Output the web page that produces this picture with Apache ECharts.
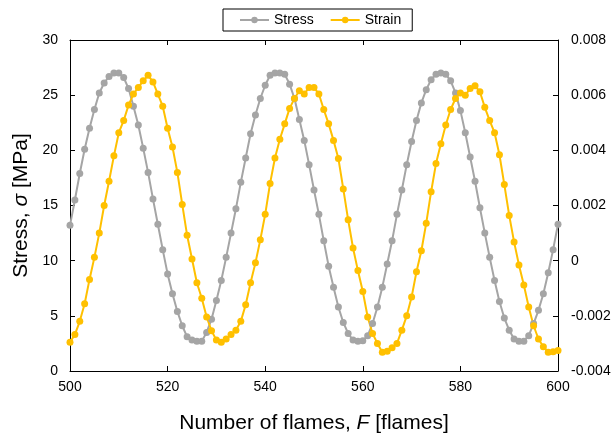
<!DOCTYPE html>
<html>
<head>
<meta charset="utf-8">
<script src="https://cdn.jsdelivr.net/npm/echarts@6/dist/echarts.min.js"></script>
<style>
  html, body { margin: 0; padding: 0; background: #fff; }
  #chart { width: 614px; height: 439px; }
</style>
</head>
<body>
<div id="chart"></div>
<script>
// frames 500..600, one sample per frame
var frameStart = 500;

// stress [MPa], left axis
var stress = [
  13.2, 15.5, 17.9, 20.1, 22.0, 23.7, 25.2, 26.1, 26.7, 27.0,
  27.0, 26.6, 25.6, 24.0, 22.3, 20.2, 18.0, 15.6, 13.3, 11.0,
  8.8, 7.0, 5.4, 4.1, 3.1, 2.8, 2.7, 2.7, 3.5, 4.7,
  6.4, 8.2, 10.3, 12.5, 14.7, 17.1, 19.3, 21.5, 23.2, 24.7,
  25.9, 26.8, 27.0, 27.0, 26.9, 26.0, 24.7, 22.8, 20.9, 18.7,
  16.4, 14.2, 11.8, 9.5, 7.6, 5.8, 4.4, 3.4, 2.8, 2.7,
  2.75, 3.2, 4.3, 5.8, 7.6, 9.7, 11.8, 14.2, 16.4, 18.7,
  20.8, 22.7, 24.3, 25.5, 26.4, 26.9, 27.0, 26.9, 26.3, 25.2,
  23.6, 21.6, 19.4, 17.2, 14.8, 12.5, 10.3, 8.2, 6.3, 4.8,
  3.7, 2.9, 2.7, 2.7, 3.2, 4.3, 5.5, 7.0, 8.9, 11.0, 13.3
];

// strain [-], right axis
var strain = [
  -0.00296, -0.00268, -0.00220, -0.00156, -0.00068, 0.00012, 0.00100, 0.00200, 0.00288, 0.00380,
  0.00464, 0.00508, 0.00564, 0.00604, 0.00628, 0.00652, 0.00672, 0.00648, 0.00604, 0.00560,
  0.00480, 0.00412, 0.00320, 0.00204, 0.00092, 0.00006, -0.00080, -0.00136, -0.00204, -0.00254,
  -0.00288, -0.00296, -0.00284, -0.00268, -0.00252, -0.00220, -0.00160, -0.00080, -0.00008, 0.00076,
  0.00168, 0.00280, 0.00372, 0.00440, 0.00496, 0.00552, 0.00588, 0.00616, 0.00604, 0.00628,
  0.00628, 0.00604, 0.00548, 0.00496, 0.00436, 0.00370, 0.00260, 0.00148, 0.00046, -0.00036,
  -0.00112, -0.00204, -0.00264, -0.00300, -0.00332, -0.00328, -0.00316, -0.00300, -0.00252, -0.00200,
  -0.00132, -0.00040, 0.00036, 0.00136, 0.00250, 0.00352, 0.00424, 0.00492, 0.00548, 0.00588,
  0.00608, 0.00600, 0.00624, 0.00634, 0.00612, 0.00556, 0.00508, 0.00464, 0.00384, 0.00276,
  0.00164, 0.00068, -0.00016, -0.00088, -0.00168, -0.00236, -0.00284, -0.00312, -0.00332, -0.00330, -0.00326
];

var seriesNames = ['Stress', 'Strain'];
var colors = ['#A5A5A5', '#FFC000'];

function pairs(arr) {
  return arr.map(function (v, i) { return [frameStart + i, v]; });
}

var font = "'Liberation Sans', Arial, Helvetica, sans-serif";
var chart = echarts.init(document.getElementById('chart'));

var axisLine = { show: true, onZero: false, lineStyle: { color: '#000', width: 1 } };
var tick = { show: true, inside: true, length: 5, lineStyle: { color: '#000' } };
var titleStyle = { fontSize: 21, color: '#000', fontFamily: font,
  rich: { i: { fontStyle: 'italic', fontSize: 21, color: '#000', fontFamily: font } } };

var option = {
  animation: false,
  textStyle: { fontFamily: font },
  legend: {
    data: seriesNames,
    top: 9,
    left: 223,
    itemWidth: 29,
    itemHeight: 8,
    itemGap: 16,
    borderColor: '#000',
    borderWidth: 1,
    padding: [4, 11, 4, 16],
    textStyle: { fontSize: 14, color: '#000', fontFamily: font }
  },
  grid: { left: 70, right: 56, top: 40, bottom: 66, containLabel: false },
  xAxis: [{
    type: 'value', min: 500, max: 600, interval: 20, position: 'bottom',
    axisLine: axisLine, axisTick: tick, splitLine: { show: false },
    axisLabel: { fontSize: 14, color: '#000', margin: 9, fontFamily: font },
    name: 'Number of flames, {i|F} [flames]',
    nameLocation: 'middle', nameGap: 42,
    nameTextStyle: titleStyle
  }, {
    type: 'value', min: 500, max: 600, interval: 20, position: 'top',
    axisLine: axisLine, axisTick: tick, axisLabel: { show: false }, splitLine: { show: false }
  }],
  yAxis: [{
    type: 'value', min: 0, max: 30, interval: 5, position: 'left',
    axisLine: axisLine, axisTick: tick, splitLine: { show: false },
    axisLabel: { fontSize: 14, color: '#000', margin: 12, fontFamily: font },
    name: 'Stress, {i|σ} [MPa]',
    nameLocation: 'middle', nameGap: 37, nameRotate: 90,
    nameTextStyle: titleStyle
  }, {
    type: 'value', min: -0.004, max: 0.008, interval: 0.002, position: 'right',
    axisLine: axisLine, axisTick: tick, splitLine: { show: false },
    axisLabel: { fontSize: 14, color: '#000', margin: 13, fontFamily: font,
      formatter: function (v) { return String(Number(v.toFixed(3))); } }
  }],
  series: [{
    name: seriesNames[0], type: 'line', xAxisIndex: 0, yAxisIndex: 0,
    data: pairs(stress), color: colors[0],
    symbol: 'circle', symbolSize: 7, showAllSymbol: true,
    lineStyle: { width: 2, color: colors[0] }, itemStyle: { color: colors[0] }
  }, {
    name: seriesNames[1], type: 'line', xAxisIndex: 0, yAxisIndex: 1,
    data: pairs(strain), color: colors[1],
    symbol: 'circle', symbolSize: 7, showAllSymbol: true,
    lineStyle: { width: 2, color: colors[1] }, itemStyle: { color: colors[1] }
  }]
};
chart.setOption(option);
</script>
</body>
</html>
